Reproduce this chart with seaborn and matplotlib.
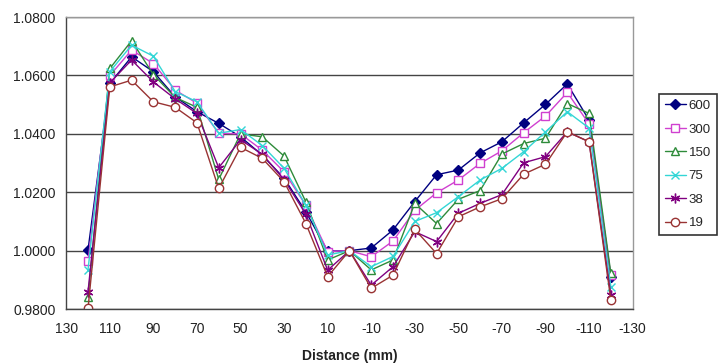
import numpy as np
import pandas as pd
import matplotlib
matplotlib.use("Agg")
import matplotlib.pyplot as plt
import seaborn as sns
from matplotlib.ticker import MultipleLocator, FormatStrFormatter

# Data
distance = [120, 110, 100, 90, 80, 70, 60, 50, 40, 30, 20, 10, 0,
            -10, -20, -30, -40, -50, -60, -70, -80, -90, -100, -110, -120]

s600 = [1.0003, 1.0573, 1.0664, 1.0613, 1.0527, 1.0476, 1.0436, 1.0390, 1.0327, 1.0248, 1.0133, 0.9998, 1.0000,
        1.0009, 1.0071, 1.0168, 1.0260, 1.0276, 1.0335, 1.0373, 1.0438, 1.0501, 1.0571, 1.0447, 0.9911]
s300 = [0.9963, 1.0600, 1.0687, 1.0641, 1.0550, 1.0505, 1.0402, 1.0400, 1.0344, 1.0270, 1.0155, 0.9997, 1.0000,
        0.9979, 1.0033, 1.0138, 1.0198, 1.0242, 1.0299, 1.0342, 1.0404, 1.0461, 1.0542, 1.0434, 0.9916]
s150 = [0.9840, 1.0624, 1.0719, 1.0603, 1.0525, 1.0491, 1.0244, 1.0400, 1.0390, 1.0324, 1.0167, 0.9968, 1.0000,
        0.9934, 0.9968, 1.0162, 1.0093, 1.0176, 1.0206, 1.0331, 1.0367, 1.0385, 1.0504, 1.0470, 0.9922]
s75 = [0.9935, 1.0613, 1.0704, 1.0666, 1.0545, 1.0510, 1.0402, 1.0415, 1.0360, 1.0282, 1.0156, 0.9985, 1.0000,
       0.9945, 0.9980, 1.0100, 1.0130, 1.0185, 1.0242, 1.0282, 1.0339, 1.0407, 1.0476, 1.0420, 0.9876]
s38 = [0.9860, 1.0575, 1.0653, 1.0578, 1.0520, 1.0470, 1.0284, 1.0380, 1.0330, 1.0243, 1.0125, 0.9933, 1.0000,
       0.9882, 0.9945, 1.0065, 1.0031, 1.0128, 1.0162, 1.0192, 1.0301, 1.0322, 1.0407, 1.0373, 0.9848]
s19 = [0.9802, 1.0561, 1.0584, 1.0510, 1.0491, 1.0438, 1.0213, 1.0354, 1.0316, 1.0236, 1.0093, 0.9911, 1.0000,
       0.9871, 0.9916, 1.0073, 0.9990, 1.0116, 1.0150, 1.0178, 1.0262, 1.0296, 1.0407, 1.0373, 0.9831]

labels = ["600", "300", "150", "75", "38", "19"]
series = [s600, s300, s150, s75, s38, s19]

colors = ["#000080", "#D040D0", "#2E8B3A", "#33D6D6", "#800080", "#993333"]
markers = ["D", "s", "^", "x", (6, 2, 0), "o"]
faces = ["#000080", "white", "white", "#33D6D6", "#800080", "white"]
sizes = [5, 6, 6, 6, 7, 6]

df = pd.DataFrame({"Distance (mm)": distance})
for lab, vals in zip(labels, series):
    df[lab] = vals

sns.set_style("white")
plt.rcParams['font.family'] = ['Liberation Sans', 'DejaVu Sans']
plt.rcParams['axes.unicode_minus'] = False

fig, ax = plt.subplots(figsize=(7.28, 3.64), dpi=100)
fig.subplots_adjust(left=0.091, right=0.869, top=0.953, bottom=0.151)

for lab, c, m, fc, ms in zip(labels, colors, markers, faces, sizes):
    sns.lineplot(data=df, x="Distance (mm)", y=lab, ax=ax, color=c, lw=1,
                 marker=m, markersize=ms, markerfacecolor=fc,
                 markeredgecolor=c, markeredgewidth=1, label=lab, sort=False)

ax.set_xlim(130, -130)
ax.set_ylim(0.98, 1.08)
ax.set_xticks(np.arange(130, -131, -20))
ax.xaxis.set_minor_locator(MultipleLocator(10))
ax.yaxis.set_major_locator(MultipleLocator(0.02))
ax.yaxis.set_major_formatter(FormatStrFormatter('%.4f'))
ax.tick_params(axis='both', which='both', direction='out', length=4,
               width=1, color='#444444', labelsize=10, labelcolor='#222222')
ax.tick_params(axis='x', pad=5)
ax.yaxis.grid(True, color='#444444', lw=1)
ax.set_axisbelow(True)

for side in ['left', 'bottom']:
    ax.spines[side].set_color('#444444')
    ax.spines[side].set_linewidth(1)
for side in ['top', 'right']:
    ax.spines[side].set_color('#999999')
    ax.spines[side].set_linewidth(1)

ax.set_ylabel('')
ax.set_xlabel('Distance (mm)', fontsize=10, fontweight='bold', color='#222222', labelpad=10)

ax.get_legend().remove()
handles, lbls = ax.get_legend_handles_labels()
leg = fig.legend(handles, lbls, loc='upper left', bbox_to_anchor=(0.905, 0.742),
                 frameon=True, fancybox=False, edgecolor='black', fontsize=9.5,
                 handlelength=1.6, labelspacing=0.85, borderpad=0.45,
                 handletextpad=0.2, borderaxespad=0)
leg.get_frame().set_linewidth(1.2)

plt.savefig('out.png', dpi=100)
